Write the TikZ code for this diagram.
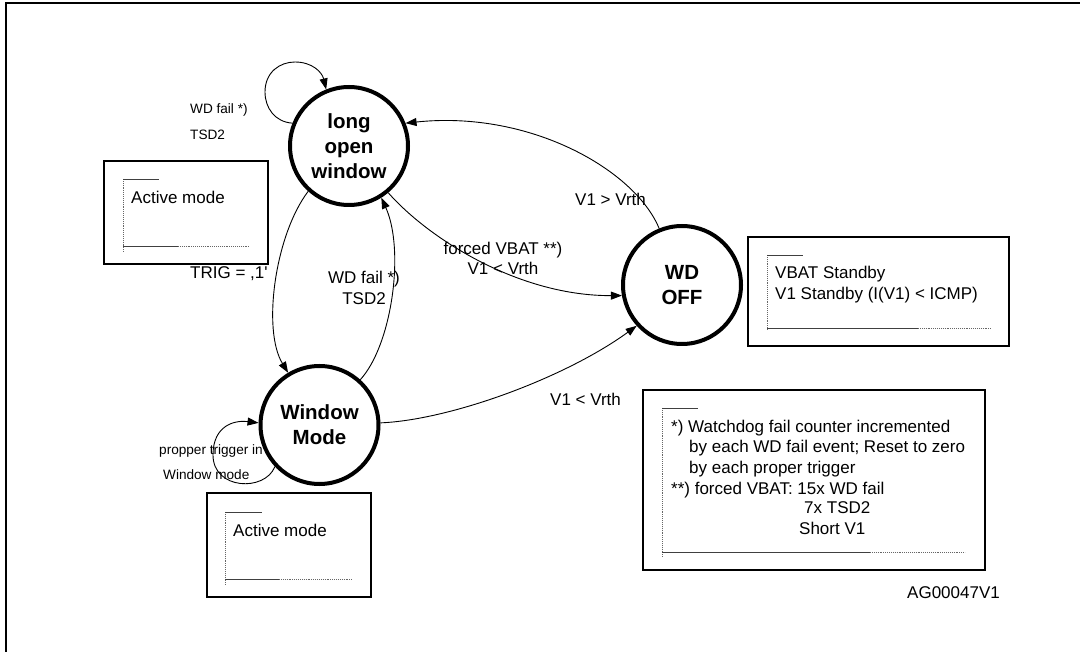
\documentclass[tikz,border=0pt]{standalone}
\usepackage{fontspec}
\setmainfont{Liberation Sans}
\usetikzlibrary{arrows.meta}
\begin{document}
\begin{tikzpicture}[x=1pt,y=-1pt,
  state/.style={circle, draw, fill=white, line width=4pt, minimum size=118pt, inner sep=0pt, align=center, font=\fontsize{20.5}{25}\selectfont\bfseries},
  trans/.style={line width=0.9pt, -{Triangle[length=11pt,width=8pt]}},
  lbl/.style={inner sep=0pt, font=\fontsize{17}{20.3}\selectfont},
  slbl/.style={inner sep=0pt, font=\fontsize{13.6}{16}\selectfont},
  infobox/.style={draw, line width=1.3pt},
  dotl/.style={black!60, densely dotted, line width=0.9pt},
  soll/.style={black!75, line width=0.9pt}
]
\useasboundingbox (0,0) rectangle (1080,652);
% outer frame
\draw[line width=2pt] (6,660) -- (6,3) -- (1090,3);

% labels under circles
\node[slbl, anchor=base west] (lp1) at (159,454) {propper trigger in};
\node[slbl, anchor=base west] (lp2) at (163,479) {Window mode};

% states
\node[state] (lw) at (349,146) {long\\open\\window};
\node[state] (wm) at (319.5,425) {Window\\Mode};
\node[state] (off) at (682,285) {WD\\OFF};

% transitions
\draw[trans] (lw.158) .. controls (275,122) and (265,108) .. (265,92)
   .. controls (265,72) and (280,62) .. (295,62)
   .. controls (312,62) and (322,72) .. (lw.112);
\draw[trans] (lw.228) .. controls (275,235) and (262,330) .. (wm.121);
\draw[trans] (wm.48) .. controls (392,345) and (405,250) .. (lw.302);
\draw[trans] (lw.310) .. controls (430,240) and (520,296) .. (off.190);
\draw[trans] (off.112) .. controls (635,170) and (530,110) .. (lw.22);
\draw[trans] (wm.2) .. controls (450,420) and (565,378) .. (off.222);
\draw[trans] (wm.223) .. controls (265,492) and (213,490) .. (213,455)
   .. controls (213,425) and (235,420) .. (wm.178);

% transition labels
\node[slbl, anchor=base west] (l1) at (190,114) {WD fail *)};
\node[slbl, anchor=base west] (l2) at (190,140) {TSD2};
\node[lbl, anchor=base west] (l3) at (190,279) {TRIG = ,1\textquotesingle};
\node[lbl, anchor=base] (l4) at (364,284) {WD fail *)};
\node[lbl, anchor=base] (l5) at (364,305) {TSD2};
\node[lbl, anchor=base] (l6) at (503,255) {forced VBAT **)};
\node[lbl, anchor=base] (l7) at (503,275) {V1 \textless{} Vrth};
\node[lbl, anchor=base west] (l8) at (575,206) {V1 \textgreater{} Vrth};
\node[lbl, anchor=base west] (l9) at (550,406) {V1 \textless{} Vrth};

% box A
\draw[infobox] (104,161) rectangle (268,264);
\draw[dotl] (123,179) -- (123,252);
\draw[soll] (123,179) -- (159,179);
\draw[soll] (123,246) -- (178,246);
\draw[dotl] (178,246) -- (249,246);
\node[lbl, anchor=base west] (ta) at (131,204) {Active mode};

% box B
\draw[infobox] (207,493) rectangle (371,597);
\draw[dotl] (225,512) -- (225,585);
\draw[soll] (225,512) -- (262,512);
\draw[soll] (225,579) -- (279,579);
\draw[dotl] (279,579) -- (352,579);
\node[lbl, anchor=base west] (tb) at (233,536) {Active mode};

% box C
\draw[infobox] (748,237) rectangle (1009,346);
\draw[dotl] (767,255) -- (767,330);
\draw[soll] (767,255) -- (803,255);
\draw[soll] (767,328) -- (918,328);
\draw[dotl] (918,328) -- (991,328);
\node[lbl, anchor=base west] (tc1) at (775,279) {VBAT Standby};
\node[lbl, anchor=base west] (tc2) at (775,300) {V1 Standby (I(V1) \textless{} ICMP)};

% box D
\draw[infobox] (643,390) rectangle (985,570);
\draw[dotl] (662,408) -- (662,558);
\draw[soll] (662,408) -- (698,408);
\draw[soll] (662,552) -- (870,552);
\draw[dotl] (870,552) -- (965,552);
\node[lbl, anchor=base west] (td1) at (671,433) {*) Watchdog fail counter incremented};
\node[lbl, anchor=base west] (td2) at (689,453) {by each WD fail event; Reset to zero};
\node[lbl, anchor=base west] (td3) at (689,474) {by each proper trigger};
\node[lbl, anchor=base west] (td4) at (671,494) {**) forced VBAT: 15x WD fail};
\node[lbl, anchor=base west] (td5) at (804,514) {7x TSD2};
\node[lbl, anchor=base west] (td6) at (799,534) {Short V1};

\node[lbl, anchor=base west] (ag) at (907,598) {AG00047V1};
\end{tikzpicture}
\end{document}
